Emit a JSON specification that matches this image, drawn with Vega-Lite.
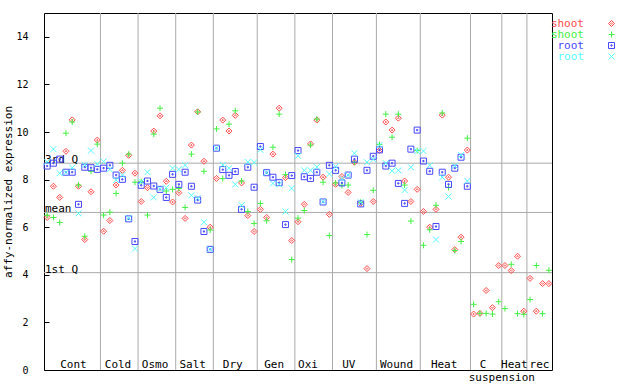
{
  "$schema": "https://vega.github.io/schema/vega-lite/v6.json",
  "width": 508,
  "height": 357,
  "autosize": {"type": "none"},
  "padding": {"left": 44, "top": 13, "right": 88, "bottom": 14},
  "background": "white",
  "config": {
    "view": {"stroke": "black", "strokeWidth": 1},
    "font": "DejaVu Sans Mono",
    "text": {"font": "DejaVu Sans Mono", "fontSize": 11, "color": "black"}
  },
  "layer": [
    {
      "data": {"values": [{"b": 8.5}, {"b": 14.5}, {"b": 20.5}, {"b": 26.5}, {"b": 33.5}, {"b": 39.5}, {"b": 45.5}, {"b": 52.5}, {"b": 59.5}, {"b": 67.5}, {"b": 72.5}, {"b": 76.5}]},
      "mark": {"type": "rule", "color": "#aaaaaa", "strokeWidth": 1},
      "encoding": {
        "x": {"field": "b", "type": "quantitative", "scale": {"domain": [-0.5, 80.5], "nice": false, "zero": false}, "axis": null}
      }
    },
    {
      "data": {"values": [{"q": 8.69, "t": "3rd Q"}, {"q": 6.62, "t": "mean"}, {"q": 4.09, "t": "1st Q"}]},
      "layer": [
        {
          "mark": {"type": "rule", "color": "#aaaaaa", "strokeWidth": 1},
          "encoding": {
            "y": {"field": "q", "type": "quantitative", "axis": {"orient": "right", "labels": false, "title": null, "domain": false, "grid": false, "values": [0, 2, 4, 6, 8, 10, 12, 14], "tickSize": -5, "tickColor": "black"}}
          }
        },
        {
          "mark": {"type": "text", "align": "left", "baseline": "alphabetic", "dx": 1, "dy": 0},
          "encoding": {
            "x": {"datum": -0.5, "type": "quantitative", "axis": null},
            "y": {"field": "q", "type": "quantitative", "axis": null},
            "text": {"field": "t"}
          }
        }
      ]
    },
    {
      "data": {"values": [
        {"g": "Cont", "p": 4.2}, {"g": "Cold", "p": 11.3}, {"g": "Osmo", "p": 17.2}, {"g": "Salt", "p": 23.2},
        {"g": "Dry", "p": 29.6}, {"g": "Gen", "p": 36.2}, {"g": "Oxi", "p": 41.6}, {"g": "UV", "p": 48.1},
        {"g": "Wound", "p": 55.7}, {"g": "Heat", "p": 63.3}, {"g": "C", "p": 69.5}, {"g": "Heat", "p": 74.5}, {"g": "rec", "p": 78.5}
      ]},
      "mark": {"type": "text", "align": "center", "baseline": "alphabetic"},
      "encoding": {
        "x": {"field": "p", "type": "quantitative", "axis": null},
        "y": {"datum": 0.1, "type": "quantitative", "axis": null},
        "text": {"field": "g"}
      }
    },
    {
      "data": {"values": [{"g": "suspension", "p": 72.5}]},
      "mark": {"type": "text", "align": "center", "baseline": "alphabetic"},
      "encoding": {
        "x": {"field": "p", "type": "quantitative", "axis": null},
        "y": {"datum": -0.45, "type": "quantitative", "axis": null},
        "text": {"field": "g"}
      }
    },
    {
      "data": {"values": [
        {"i":0,"s":"a","v":6.41},{"i":0,"s":"b","v":6.5},{"i":0,"s":"c","v":8.57},{"i":0,"s":"d","v":8.75},
        {"i":1,"s":"a","v":7.72},{"i":1,"s":"b","v":6.41},{"i":1,"s":"c","v":8.69},{"i":1,"s":"d","v":9.28},
        {"i":2,"s":"a","v":7.25},{"i":2,"s":"b","v":6.2},{"i":2,"s":"c","v":8.86},{"i":2,"s":"d","v":8.27},
        {"i":3,"s":"a","v":9.19},{"i":3,"s":"b","v":9.95},{"i":3,"s":"c","v":8.31},{"i":3,"s":"d","v":8.3},
        {"i":4,"s":"a","v":10.51},{"i":4,"s":"b","v":10.42},{"i":4,"s":"c","v":8.31},{"i":4,"s":"d","v":8.5},
        {"i":5,"s":"a","v":7.72},{"i":5,"s":"b","v":7.77},{"i":5,"s":"c","v":6.96},{"i":5,"s":"d","v":6.58},
        {"i":6,"s":"a","v":5.48},{"i":6,"s":"b","v":5.62},{"i":6,"s":"c","v":8.52},{"i":6,"s":"d","v":8.62},
        {"i":7,"s":"a","v":7.49},{"i":7,"s":"b","v":8.35},{"i":7,"s":"c","v":8.5},{"i":7,"s":"d","v":9.22},
        {"i":8,"s":"a","v":9.66},{"i":8,"s":"b","v":9.49},{"i":8,"s":"c","v":8.43},{"i":8,"s":"d","v":8.66},
        {"i":9,"s":"a","v":5.83},{"i":9,"s":"b","v":6.51},{"i":9,"s":"c","v":8.48},{"i":9,"s":"d","v":8.76},
        {"i":10,"s":"a","v":6.28},{"i":10,"s":"b","v":6.63},{"i":10,"s":"c","v":8.6},{"i":10,"s":"d","v":8.43},
        {"i":11,"s":"a","v":7.77},{"i":11,"s":"b","v":7.42},{"i":11,"s":"c","v":8.19},{"i":11,"s":"d","v":7.98},
        {"i":12,"s":"a","v":8.39},{"i":12,"s":"b","v":8.69},{"i":12,"s":"c","v":8.01},{"i":12,"s":"d","v":8.19},
        {"i":13,"s":"a","v":9.02},{"i":13,"s":"b","v":9.07},{"i":13,"s":"c","v":6.35},{"i":13,"s":"d","v":6.38},
        {"i":14,"s":"a","v":8.27},{"i":14,"s":"b","v":7.89},{"i":14,"s":"c","v":5.4},{"i":14,"s":"d","v":5.1},
        {"i":15,"s":"a","v":7.08},{"i":15,"s":"b","v":7.91},{"i":15,"s":"c","v":7.76},{"i":15,"s":"d","v":7.91},
        {"i":16,"s":"a","v":7.66},{"i":16,"s":"b","v":6.51},{"i":16,"s":"c","v":7.94},{"i":16,"s":"d","v":8.31},
        {"i":17,"s":"a","v":10.04},{"i":17,"s":"b","v":9.91},{"i":17,"s":"c","v":7.73},{"i":17,"s":"d","v":7.25},
        {"i":18,"s":"a","v":10.68},{"i":18,"s":"b","v":11.0},{"i":18,"s":"c","v":7.59},{"i":18,"s":"d","v":7.62},
        {"i":19,"s":"a","v":7.93},{"i":19,"s":"b","v":7.52},{"i":19,"s":"c","v":7.25},{"i":19,"s":"d","v":7.66},
        {"i":20,"s":"a","v":7.06},{"i":20,"s":"b","v":7.59},{"i":20,"s":"c","v":8.22},{"i":20,"s":"d","v":8.48},
        {"i":21,"s":"a","v":7.45},{"i":21,"s":"b","v":7.63},{"i":21,"s":"c","v":7.8},{"i":21,"s":"d","v":8.43},
        {"i":22,"s":"a","v":6.37},{"i":22,"s":"b","v":6.83},{"i":22,"s":"c","v":8.31},{"i":22,"s":"d","v":8.6},
        {"i":23,"s":"a","v":9.45},{"i":23,"s":"b","v":9.07},{"i":23,"s":"c","v":7.72},{"i":23,"s":"d","v":7.34},
        {"i":24,"s":"a","v":10.85},{"i":24,"s":"b","v":10.84},{"i":24,"s":"c","v":7.14},{"i":24,"s":"d","v":7.22},
        {"i":25,"s":"a","v":8.77},{"i":25,"s":"b","v":8.35},{"i":25,"s":"c","v":5.82},{"i":25,"s":"d","v":6.21},
        {"i":26,"s":"a","v":6.0},{"i":26,"s":"b","v":5.88},{"i":26,"s":"c","v":5.07},{"i":26,"s":"d","v":5.07},
        {"i":27,"s":"a","v":8.05},{"i":27,"s":"b","v":10.13},{"i":27,"s":"c","v":9.32},{"i":27,"s":"d","v":9.32},
        {"i":28,"s":"a","v":10.5},{"i":28,"s":"b","v":8.04},{"i":28,"s":"c","v":8.42},{"i":28,"s":"d","v":8.62},
        {"i":29,"s":"a","v":10.04},{"i":29,"s":"b","v":10.33},{"i":29,"s":"c","v":8.18},{"i":29,"s":"d","v":8.48},
        {"i":30,"s":"a","v":10.7},{"i":30,"s":"b","v":10.89},{"i":30,"s":"c","v":8.34},{"i":30,"s":"d","v":7.8},
        {"i":31,"s":"a","v":7.86},{"i":31,"s":"b","v":7.94},{"i":31,"s":"c","v":6.75},{"i":31,"s":"d","v":6.92},
        {"i":32,"s":"a","v":6.49},{"i":32,"s":"b","v":6.66},{"i":32,"s":"c","v":8.52},{"i":32,"s":"d","v":8.74},
        {"i":33,"s":"a","v":5.82},{"i":33,"s":"b","v":6.16},{"i":33,"s":"c","v":7.68},{"i":33,"s":"d","v":8.72},
        {"i":34,"s":"a","v":6.75},{"i":34,"s":"b","v":7.0},{"i":34,"s":"c","v":9.39},{"i":34,"s":"d","v":9.25},
        {"i":35,"s":"a","v":6.41},{"i":35,"s":"b","v":6.27},{"i":35,"s":"c","v":8.29},{"i":35,"s":"d","v":8.29},
        {"i":36,"s":"a","v":9.07},{"i":36,"s":"b","v":9.36},{"i":36,"s":"c","v":8.1},{"i":36,"s":"d","v":7.84},
        {"i":37,"s":"a","v":11.0},{"i":37,"s":"b","v":10.75},{"i":37,"s":"c","v":7.87},{"i":37,"s":"d","v":7.8},
        {"i":38,"s":"a","v":8.08},{"i":38,"s":"b","v":8.21},{"i":38,"s":"c","v":6.11},{"i":38,"s":"d","v":6.66},
        {"i":39,"s":"a","v":5.44},{"i":39,"s":"b","v":4.64},{"i":39,"s":"c","v":8.17},{"i":39,"s":"d","v":7.63},
        {"i":40,"s":"a","v":6.23},{"i":40,"s":"b","v":6.38},{"i":40,"s":"c","v":9.22},{"i":40,"s":"d","v":9.0},
        {"i":41,"s":"a","v":6.96},{"i":41,"s":"b","v":6.7},{"i":41,"s":"c","v":8.12},{"i":41,"s":"d","v":8.39},
        {"i":42,"s":"a","v":9.5},{"i":42,"s":"b","v":9.45},{"i":42,"s":"c","v":8.05},{"i":42,"s":"d","v":8.39},
        {"i":43,"s":"a","v":10.5},{"i":43,"s":"b","v":10.54},{"i":43,"s":"c","v":8.31},{"i":43,"s":"d","v":8.53},
        {"i":44,"s":"a","v":8.1},{"i":44,"s":"b","v":7.89},{"i":44,"s":"c","v":7.06},{"i":44,"s":"d","v":7.08},
        {"i":45,"s":"a","v":6.54},{"i":45,"s":"b","v":5.65},{"i":45,"s":"c","v":8.6},{"i":45,"s":"d","v":8.24},
        {"i":46,"s":"a","v":7.8},{"i":46,"s":"b","v":7.86},{"i":46,"s":"c","v":8.39},{"i":46,"s":"d","v":8.55},
        {"i":47,"s":"a","v":8.13},{"i":47,"s":"b","v":7.76},{"i":47,"s":"c","v":7.86},{"i":47,"s":"d","v":8.04},
        {"i":48,"s":"a","v":7.46},{"i":48,"s":"b","v":7.77},{"i":48,"s":"c","v":8.19},{"i":48,"s":"d","v":8.19},
        {"i":49,"s":"a","v":8.73},{"i":49,"s":"b","v":8.73},{"i":49,"s":"c","v":8.86},{"i":49,"s":"d","v":9.11},
        {"i":50,"s":"a","v":7.0},{"i":50,"s":"b","v":7.05},{"i":50,"s":"c","v":6.98},{"i":50,"s":"d","v":7.05},
        {"i":51,"s":"a","v":4.26},{"i":51,"s":"b","v":5.69},{"i":51,"s":"c","v":8.39},{"i":51,"s":"d","v":8.73},
        {"i":52,"s":"a","v":7.08},{"i":52,"s":"b","v":7.55},{"i":52,"s":"c","v":8.98},{"i":52,"s":"d","v":8.85},
        {"i":53,"s":"a","v":9.22},{"i":53,"s":"b","v":9.47},{"i":53,"s":"c","v":9.25},{"i":53,"s":"d","v":9.45},
        {"i":54,"s":"a","v":10.42},{"i":54,"s":"b","v":10.75},{"i":54,"s":"c","v":8.57},{"i":54,"s":"d","v":8.69},
        {"i":55,"s":"a","v":10.08},{"i":55,"s":"b","v":9.78},{"i":55,"s":"c","v":8.69},{"i":55,"s":"d","v":8.37},
        {"i":56,"s":"a","v":10.58},{"i":56,"s":"b","v":10.75},{"i":56,"s":"c","v":7.84},{"i":56,"s":"d","v":8.39},
        {"i":57,"s":"a","v":7.94},{"i":57,"s":"b","v":7.77},{"i":57,"s":"c","v":7.0},{"i":57,"s":"d","v":7.56},
        {"i":58,"s":"a","v":7.08},{"i":58,"s":"b","v":6.26},{"i":58,"s":"c","v":9.28},{"i":58,"s":"d","v":8.52},
        {"i":59,"s":"a","v":7.59},{"i":59,"s":"b","v":9.22},{"i":59,"s":"c","v":10.08},{"i":59,"s":"d","v":9.2},
        {"i":60,"s":"a","v":6.66},{"i":60,"s":"b","v":5.24},{"i":60,"s":"c","v":8.78},{"i":60,"s":"d","v":9.2},
        {"i":61,"s":"a","v":6.0},{"i":61,"s":"b","v":5.89},{"i":61,"s":"c","v":8.35},{"i":61,"s":"d","v":8.6},
        {"i":62,"s":"a","v":6.75},{"i":62,"s":"b","v":6.92},{"i":62,"s":"c","v":6.03},{"i":62,"s":"d","v":5.48},
        {"i":63,"s":"a","v":10.71},{"i":63,"s":"b","v":10.8},{"i":63,"s":"c","v":8.31},{"i":63,"s":"d","v":8.1},
        {"i":64,"s":"a","v":8.1},{"i":64,"s":"b","v":7.67},{"i":64,"s":"c","v":7.8},{"i":64,"s":"d","v":7.29},
        {"i":65,"s":"a","v":5.06},{"i":65,"s":"b","v":5.02},{"i":65,"s":"c","v":8.48},{"i":65,"s":"d","v":8.58},
        {"i":66,"s":"a","v":5.58},{"i":66,"s":"b","v":5.4},{"i":66,"s":"c","v":8.94},{"i":66,"s":"d","v":9.03},
        {"i":67,"s":"a","v":9.24},{"i":67,"s":"b","v":9.74},{"i":67,"s":"c","v":7.72},{"i":67,"s":"d","v":7.94},
        {"i":68,"s":"a","v":2.35},{"i":68,"s":"b","v":2.76},
        {"i":69,"s":"a","v":2.38},{"i":69,"s":"b","v":2.38},
        {"i":70,"s":"a","v":3.34},{"i":70,"s":"b","v":2.38},
        {"i":71,"s":"a","v":2.62},{"i":71,"s":"b","v":2.35},
        {"i":72,"s":"a","v":4.39},{"i":72,"s":"b","v":2.87},
        {"i":73,"s":"a","v":4.39},{"i":73,"s":"b","v":2.58},
        {"i":74,"s":"a","v":4.18},{"i":74,"s":"b","v":4.44},
        {"i":75,"s":"a","v":4.78},{"i":75,"s":"b","v":2.37},
        {"i":76,"s":"a","v":2.47},{"i":76,"s":"b","v":2.34},
        {"i":77,"s":"a","v":3.85},{"i":77,"s":"b","v":2.96},
        {"i":78,"s":"a","v":2.47},{"i":78,"s":"b","v":4.39},
        {"i":79,"s":"a","v":3.63},{"i":79,"s":"b","v":2.37},
        {"i":80,"s":"a","v":3.63},{"i":80,"s":"b","v":4.19}
      ]},
      "mark": {"type": "point", "filled": false, "strokeWidth": 1, "size": 36, "opacity": 1},
      "encoding": {
        "x": {"field": "i", "type": "quantitative", "axis": null},
        "y": {
          "field": "v", "type": "quantitative",
          "scale": {"domain": [0, 15], "nice": false, "zero": true},
          "axis": {
            "orient": "left", "values": [0, 2, 4, 6, 8, 10, 12, 14], "grid": false, "domain": false,
            "tickSize": -5, "tickColor": "black", "labelPadding": 21,
            "labelFont": "DejaVu Sans Mono", "labelFontSize": 10, "labelColor": "black",
            "title": "affy-normalized expression", "titleFont": "DejaVu Sans Mono", "titleFontSize": 11,
            "titleFontWeight": "normal", "titleColor": "black", "titlePadding": 2
          }
        },
        "color": {
          "field": "s", "type": "nominal",
          "scale": {"domain": ["a", "b", "c", "d"], "range": ["#ff4a4a", "#44f044", "#4848ff", "#55ffff"]},
          "legend": {
            "title": null, "orient": "none", "legendX": 562, "legendY": 5,
            "labelExpr": "datum.value == 'a' || datum.value == 'b' ? 'shoot' : 'root'",
            "labelAlign": "right", "labelOffset": -33, "rowPadding": -1,
            "labelColor": {"expr": "datum.value == 'a' ? '#ff4a4a' : datum.value == 'b' ? '#44f044' : datum.value == 'c' ? '#4848ff' : '#55ffff'"},
            "labelFont": "DejaVu Sans Mono", "labelFontSize": 11, "symbolStrokeWidth": 1, "symbolSize": 36
          }
        },
        "shape": {
          "field": "s", "type": "nominal",
          "scale": {"domain": ["a", "b", "c", "d"], "range": [
            "M0,-1L1,0L0,1L-1,0Z M-0.25,0L0,-0.25L0.25,0L0,0.25Z",
            "M-1,0H1M0,-1V1",
            "M-1,-1H1V1H-1Z M-0.2,-0.2H0.2V0.2H-0.2Z",
            "M-1,-1L1,1M-1,1L1,-1"
          ]},
          "legend": {
            "title": null, "orient": "none", "legendX": 562, "legendY": 5,
            "labelExpr": "datum.value == 'a' || datum.value == 'b' ? 'shoot' : 'root'",
            "labelAlign": "right", "labelOffset": -33, "rowPadding": -1,
            "labelColor": {"expr": "datum.value == 'a' ? '#ff4a4a' : datum.value == 'b' ? '#44f044' : datum.value == 'c' ? '#4848ff' : '#55ffff'"},
            "labelFont": "DejaVu Sans Mono", "labelFontSize": 11, "symbolStrokeWidth": 1, "symbolSize": 36
          }
        }
      }
    }
  ]
}
